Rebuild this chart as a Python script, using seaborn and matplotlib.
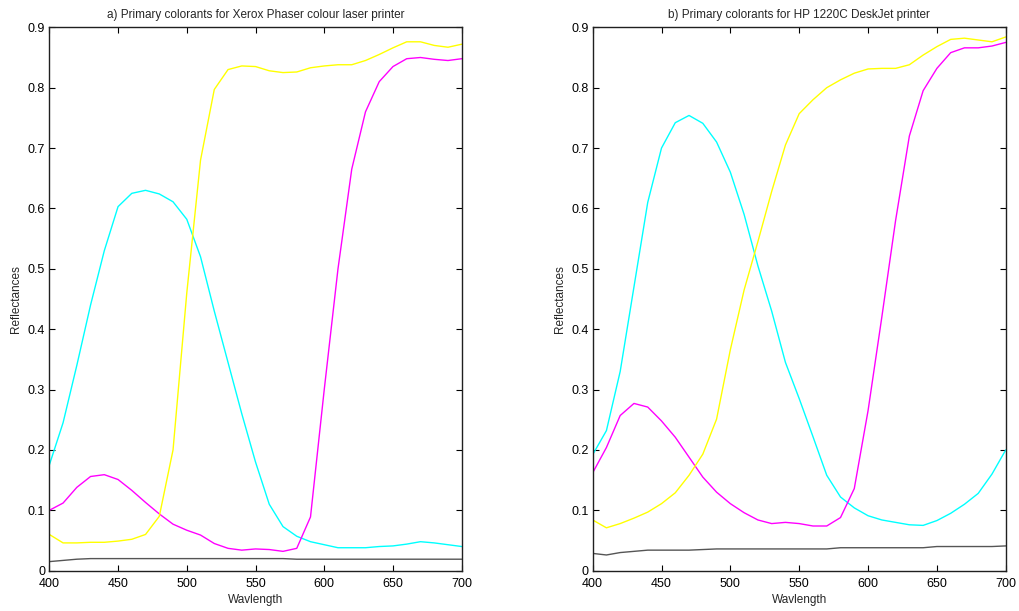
import numpy as np
import pandas as pd
import matplotlib
matplotlib.use("Agg")
import matplotlib.pyplot as plt
import seaborn as sns

wavelength = list(range(400, 701, 10))

# Xerox Phaser colour laser printer
xerox_cyan = [0.175, 0.245, 0.34, 0.44, 0.53, 0.603, 0.625, 0.63, 0.624, 0.611,
              0.582, 0.52, 0.43, 0.345, 0.26, 0.18, 0.11, 0.073, 0.057, 0.048,
              0.043, 0.038, 0.038, 0.038, 0.04, 0.041, 0.044, 0.048, 0.046, 0.043, 0.04]
xerox_magenta = [0.1, 0.112, 0.138, 0.156, 0.159, 0.151, 0.133, 0.113, 0.094, 0.077,
                 0.067, 0.059, 0.045, 0.037, 0.034, 0.036, 0.035, 0.032, 0.037, 0.089,
                 0.30, 0.50, 0.665, 0.76, 0.81, 0.835, 0.848, 0.85, 0.847, 0.845, 0.848]
xerox_yellow = [0.06, 0.046, 0.046, 0.047, 0.047, 0.049, 0.052, 0.06, 0.09, 0.2,
                0.46, 0.68, 0.797, 0.83, 0.836, 0.835, 0.828, 0.825, 0.826, 0.833,
                0.836, 0.838, 0.838, 0.845, 0.855, 0.866, 0.876, 0.876, 0.87, 0.867, 0.872]
xerox_black = [0.015, 0.017, 0.019, 0.02, 0.02, 0.02, 0.02, 0.02, 0.02, 0.02,
               0.02, 0.02, 0.02, 0.02, 0.02, 0.02, 0.02, 0.02, 0.019, 0.019,
               0.019, 0.019, 0.019, 0.019, 0.019, 0.019, 0.019, 0.019, 0.019, 0.019, 0.019]

# HP 1220C DeskJet printer
hp_cyan = [0.192, 0.232, 0.33, 0.47, 0.61, 0.70, 0.742, 0.754, 0.741, 0.71,
           0.66, 0.59, 0.505, 0.43, 0.345, 0.285, 0.222, 0.158, 0.122, 0.104,
           0.091, 0.084, 0.08, 0.076, 0.075, 0.083, 0.095, 0.11, 0.128, 0.16, 0.2]
hp_magenta = [0.162, 0.204, 0.257, 0.277, 0.271, 0.248, 0.221, 0.188, 0.155, 0.13,
              0.111, 0.096, 0.084, 0.078, 0.08, 0.078, 0.074, 0.074, 0.088, 0.136,
              0.265, 0.42, 0.58, 0.72, 0.795, 0.832, 0.858, 0.866, 0.866, 0.869, 0.875]
hp_yellow = [0.084, 0.071, 0.078, 0.087, 0.097, 0.111, 0.129, 0.158, 0.193, 0.251,
             0.366, 0.465, 0.545, 0.628, 0.705, 0.757, 0.78, 0.80, 0.813, 0.824,
             0.831, 0.832, 0.832, 0.838, 0.854, 0.868, 0.88, 0.882, 0.879, 0.876, 0.884]
hp_black = [0.0286, 0.026, 0.03, 0.032, 0.034, 0.034, 0.034, 0.034, 0.035, 0.036,
            0.036, 0.036, 0.036, 0.036, 0.036, 0.036, 0.036, 0.036, 0.038, 0.038,
            0.038, 0.038, 0.038, 0.038, 0.038, 0.04, 0.04, 0.04, 0.04, 0.04, 0.041]

titles = ["a) Primary colorants for Xerox Phaser colour laser printer",
          "b) Primary colorants for HP 1220C DeskJet printer"]
x_ticks = [400, 450, 500, 550, 600, 650, 700]
y_ticks = [0, 0.1, 0.2, 0.3, 0.4, 0.5, 0.6, 0.7, 0.8, 0.9]
y_tick_labels = ["0", "0.1", "0.2", "0.3", "0.4", "0.5", "0.6", "0.7", "0.8", "0.9"]

ink_colors = {"cyan": "#00ffff", "magenta": "#ff00ff", "yellow": "#ffff00", "black": "#555555"}

sns.set_style("ticks")
plt.rcParams["font.family"] = ["Liberation Sans", "DejaVu Sans"]

fig = plt.figure(figsize=(10.19, 6.11), dpi=100)
ax_a = fig.add_axes([0.0484, 0.066, 0.4047, 0.8893])
ax_b = fig.add_axes([0.5816, 0.066, 0.4054, 0.8893])

panels = [
    (ax_a, {"cyan": xerox_cyan, "magenta": xerox_magenta, "yellow": xerox_yellow, "black": xerox_black}),
    (ax_b, {"cyan": hp_cyan, "magenta": hp_magenta, "yellow": hp_yellow, "black": hp_black}),
]

for (ax, series), title in zip(panels, titles):
    frames = [pd.DataFrame({"Wavlength": wavelength, "Reflectance": vals, "ink": name})
              for name, vals in series.items()]
    df = pd.concat(frames, ignore_index=True)
    sns.lineplot(data=df, x="Wavlength", y="Reflectance", hue="ink",
                 palette=ink_colors, linewidth=1.0, legend=False, ax=ax,
                 estimator=None, sort=False)
    ax.set_xlim(400, 700)
    ax.set_ylim(0, 0.9)
    ax.set_xticks(x_ticks)
    ax.set_xticklabels([str(t) for t in x_ticks])
    ax.set_yticks(y_ticks)
    ax.set_yticklabels(y_tick_labels)
    ax.tick_params(direction="in", length=4, width=0.8, top=True, right=True,
                   labelsize=9, colors="#000000")
    ax.tick_params(axis="x", pad=5)
    ax.tick_params(axis="y", pad=3)
    for sp in ax.spines.values():
        sp.set_visible(True)
        sp.set_color("#202020")
        sp.set_linewidth(1.0)
    ax.set_xlabel("Wavlength", fontsize=8.5, labelpad=3)
    ax.set_ylabel("Reflectances", fontsize=8.5, labelpad=4)
    ax.set_title(title, fontsize=8.5, pad=7)

fig.savefig("out.png", dpi=100)
